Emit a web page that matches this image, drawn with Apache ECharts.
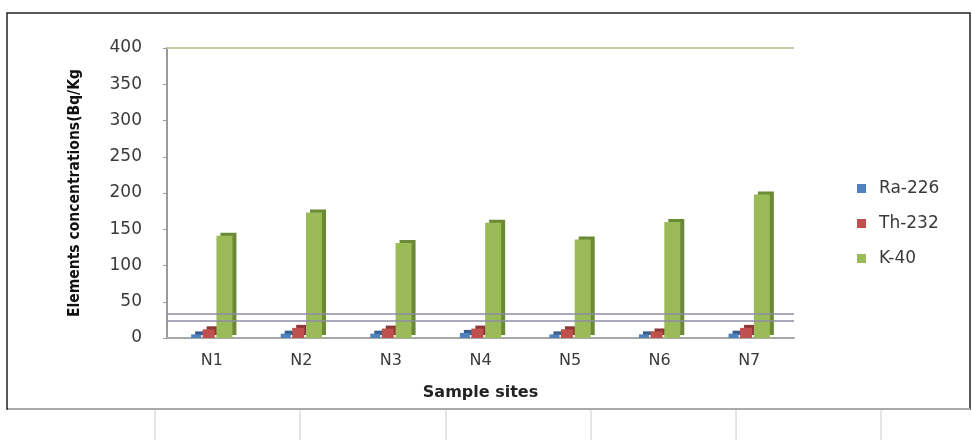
<!DOCTYPE html>
<html>
<head>
<meta charset="utf-8">
<script src="https://cdn.jsdelivr.net/npm/echarts@6/dist/echarts.min.js"></script>
<style>
  html, body { margin: 0; padding: 0; background: #ffffff; }
  #chart { width: 972px; height: 440px; }
</style>
</head>
<body>
<div id="chart"></div>
<script>
// Sample sites and measured activity concentrations (Bq/Kg)
const sites = ['N1', 'N2', 'N3', 'N4', 'N5', 'N6', 'N7'];
const ra226 = [5, 6, 6, 7, 5, 5, 6];
const th232 = [12, 14, 13, 13, 12, 9, 14];
const k40 = [141, 173, 131, 159, 136, 160, 198];
const yTicks = [0, 50, 100, 150, 200, 250, 300, 350, 400];
const refLines = [24, 33];

const chart = echarts.init(document.getElementById('chart'));

function barSeries(name, data, color, side, width) {
  return {
    name: name,
    type: 'bar',
    data: data,
    barWidth: width,
    barGap: '15%',
    itemStyle: {
      color: color,
      shadowColor: side,
      shadowBlur: 0,
      shadowOffsetX: 4,
      shadowOffsetY: -3
    }
  };
}

const series = [
  barSeries('Ra-226', ra226, '#4f81bd', '#385d8a', 10),
  barSeries('Th-232', th232, '#c0504d', '#8c3836', 12),
  barSeries('K-40', k40, '#9bbb59', '#6b8a35', 16)
];

// Horizontal reference lines across the plot
series[0].markLine = {
  silent: true,
  symbol: 'none',
  label: { show: false },
  lineStyle: { color: '#8c8ca4', width: 1.5, type: 'solid' },
  data: refLines.map(v => ({ yAxis: v }))
};
series[1].markLine = {
  silent: true,
  symbol: 'none',
  label: { show: false },
  lineStyle: { color: '#c9c9a6', width: 2, type: 'solid' },
  data: [{ yAxis: yTicks[yTicks.length - 1] }]
};

const labelFont = { fontFamily: 'DejaVu Sans', fontSize: 16, color: '#3a3a3a' };

chart.setOption({
  animation: false,
  backgroundColor: '#ffffff',
  grid: { left: 167, right: 178, top: 48, bottom: 102 },
  legend: {
    orient: 'vertical',
    left: 852,
    top: 175,
    itemWidth: 9,
    itemHeight: 9,
    itemGap: 18,
    icon: 'rect',
    textStyle: { fontFamily: 'DejaVu Sans', fontSize: 17, color: '#3a3a3a', padding: [0, 0, 0, 8] },
    data: ['Ra-226', 'Th-232', 'K-40']
  },
  xAxis: {
    type: 'category',
    data: sites,
    name: 'Sample sites',
    nameLocation: 'middle',
    nameGap: 47,
    nameTextStyle: { fontFamily: 'DejaVu Sans', fontWeight: 'bold', fontSize: 16, color: '#222' },
    axisLine: { lineStyle: { color: '#a8a8a8', width: 2 } },
    axisTick: { show: false },
    axisLabel: Object.assign({ margin: 15 }, labelFont)
  },
  yAxis: {
    type: 'value',
    min: yTicks[0],
    max: yTicks[yTicks.length - 1],
    interval: 50,
    name: 'Elements concentrations(Bq/Kg',
    nameLocation: 'middle',
    nameGap: 84,
    nameTextStyle: { fontFamily: 'DejaVu Sans Condensed', fontWeight: 'bold', fontSize: 15.5, color: '#111' },
    axisLine: { show: true, lineStyle: { color: '#9a9a9a', width: 2 } },
    axisTick: { show: true, length: 4, inside: false, lineStyle: { color: '#9a9a9a' } },
    splitLine: { show: false },
    axisLabel: Object.assign({ margin: 25 }, labelFont, { fontSize: 17 })
  },
  graphic: [
    { type: 'rect', shape: { x: 7, y: 13, width: 963, height: 396 }, style: { fill: 'none', stroke: '#222', lineWidth: 1.5 } },
    { type: 'line', shape: { x1: 8, y1: 409, x2: 970, y2: 409 }, style: { stroke: '#aaa', lineWidth: 2 } },
    { type: 'line', shape: { x1: 155, y1: 410, x2: 155, y2: 440 }, style: { stroke: '#ccc', lineWidth: 1 } },
    { type: 'line', shape: { x1: 300, y1: 410, x2: 300, y2: 440 }, style: { stroke: '#ccc', lineWidth: 1 } },
    { type: 'line', shape: { x1: 446, y1: 410, x2: 446, y2: 440 }, style: { stroke: '#ccc', lineWidth: 1 } },
    { type: 'line', shape: { x1: 591, y1: 410, x2: 591, y2: 440 }, style: { stroke: '#ccc', lineWidth: 1 } },
    { type: 'line', shape: { x1: 736, y1: 410, x2: 736, y2: 440 }, style: { stroke: '#ccc', lineWidth: 1 } },
    { type: 'line', shape: { x1: 881, y1: 410, x2: 881, y2: 440 }, style: { stroke: '#ccc', lineWidth: 1 } }
  ],
  series: series
});
</script>
</body>
</html>
